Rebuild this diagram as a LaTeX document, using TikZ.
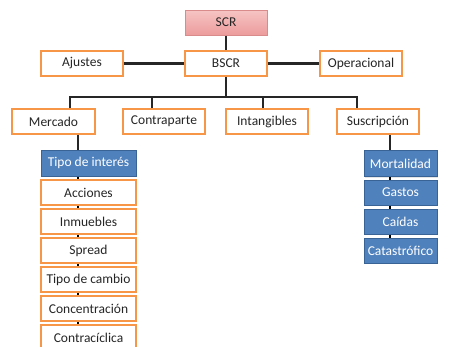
\documentclass[tikz,border=0pt]{standalone}
\usepackage{fontspec}
\setmainfont{Carlito}
\usetikzlibrary{shadows}
\definecolor{orng}{HTML}{F79646}
\definecolor{blu}{HTML}{4F81BD}
\definecolor{bluD}{HTML}{3A6395}
\definecolor{pinkT}{HTML}{F7C4C4}
\definecolor{pinkB}{HTML}{EC9C9C}
\definecolor{pinkD}{HTML}{D98A8A}
\definecolor{txt}{HTML}{262626}
\tikzset{
  base/.style={minimum height=25pt, inner sep=0pt, font=\fontsize{13.5}{15}\selectfont, text=txt,
     drop shadow={shadow xshift=0.8pt, shadow yshift=-1.2pt, opacity=0.2}},
  obox/.style={base, draw=orng, line width=1.8pt, fill=white},
  bbox/.style={base, draw=bluD, line width=1pt, fill=blu, text=white},
  pbox/.style={base, draw=pinkD, line width=1pt, top color=pinkT, bottom color=pinkB},
  conn/.style={line width=2.2pt, draw=black!85},
  tick/.style={line width=1.4pt, draw=black}
}
\begin{document}
\begin{tikzpicture}[x={(1pt,0)}, y={(0,-1pt)}]
\useasboundingbox (0,0) rectangle (453,346);
\clip (0,0) rectangle (453,346);
\fill[white] (0,0) rectangle (453,346);

\node[pbox, minimum width=82pt] (scr) at (226,22.5) {SCR};
\node[obox, minimum width=82pt] (bscr) at (226,63.5) {BSCR};
\node[obox, minimum width=82pt] (ajustes) at (82,63.5) {Ajustes};
\node[obox, minimum width=82pt] (oper) at (361,63.5) {Operacional};

\node[obox, minimum width=83pt] (mercado) at (53.5,121.5) {Mercado};
\node[obox, minimum width=82pt] (contra) at (164,121.5) {Contraparte};
\node[obox, minimum width=82pt] (intang) at (267,121.5) {Intangibles};
\node[obox, minimum width=82pt] (susc) at (378,121.5) {Suscripción};

\node[bbox, minimum width=95pt, minimum height=26pt] (ti) at (88.5,163) {Tipo de interés};
\node[obox, minimum width=95pt] (acc) at (88.5,192.5) {Acciones};
\node[obox, minimum width=95pt] (inm) at (88.5,221.5) {Inmuebles};
\node[obox, minimum width=95pt] (spr) at (88.5,250.5) {Spread};
\node[obox, minimum width=95pt] (tc) at (88.5,279.5) {Tipo de cambio};
\node[obox, minimum width=95pt] (conc) at (88.5,308.5) {Concentración};
\node[obox, minimum width=95pt] (ccl) at (88.5,337.5) {Contracíclica};

\node[bbox, minimum width=73pt, minimum height=26pt] (mort) at (400.5,163.5) {Mortalidad};
\node[bbox, minimum width=73pt] (gas) at (400.5,192.5) {Gastos};
\node[bbox, minimum width=73pt] (cai) at (400.5,221.5) {Caídas};
\node[bbox, minimum width=73pt] (cat) at (400.5,250.5) {Catastrófico};

\coordinate (dM) at (70,97);
\coordinate (dC) at (152,97);
\coordinate (dI) at (263,97);
\coordinate (dS) at (357,97);
\coordinate (mx) at (78,0);
\coordinate (sx) at (390,0);

\draw[conn] (scr.south) -- (bscr.north);
\draw[conn] (ajustes.east) -- (bscr.west);
\draw[conn] (bscr.east) -- (oper.west);
\draw[conn] (bscr.south) -- (bscr.south |- dM);
\draw[conn] (dM |- mercado.north) -- (dM) -- (dS) -- (dS |- susc.north);
\draw[conn] (dC) -- (dC |- contra.north);
\draw[conn] (dI) -- (dI |- intang.north);
\draw[conn] (mx |- mercado.south) -- (mx |- ti.north);
\draw[conn] (sx |- susc.south) -- (sx |- mort.north);
\foreach \a/\b in {ti/acc, acc/inm, inm/spr, spr/tc, tc/conc, conc/ccl}
  \draw[tick] (mx |- \a.south) -- (mx |- \b.north);
\foreach \a/\b in {mort/gas, gas/cai, cai/cat}
  \draw[tick] (sx |- \a.south) -- (sx |- \b.north);
\end{tikzpicture}
\end{document}
